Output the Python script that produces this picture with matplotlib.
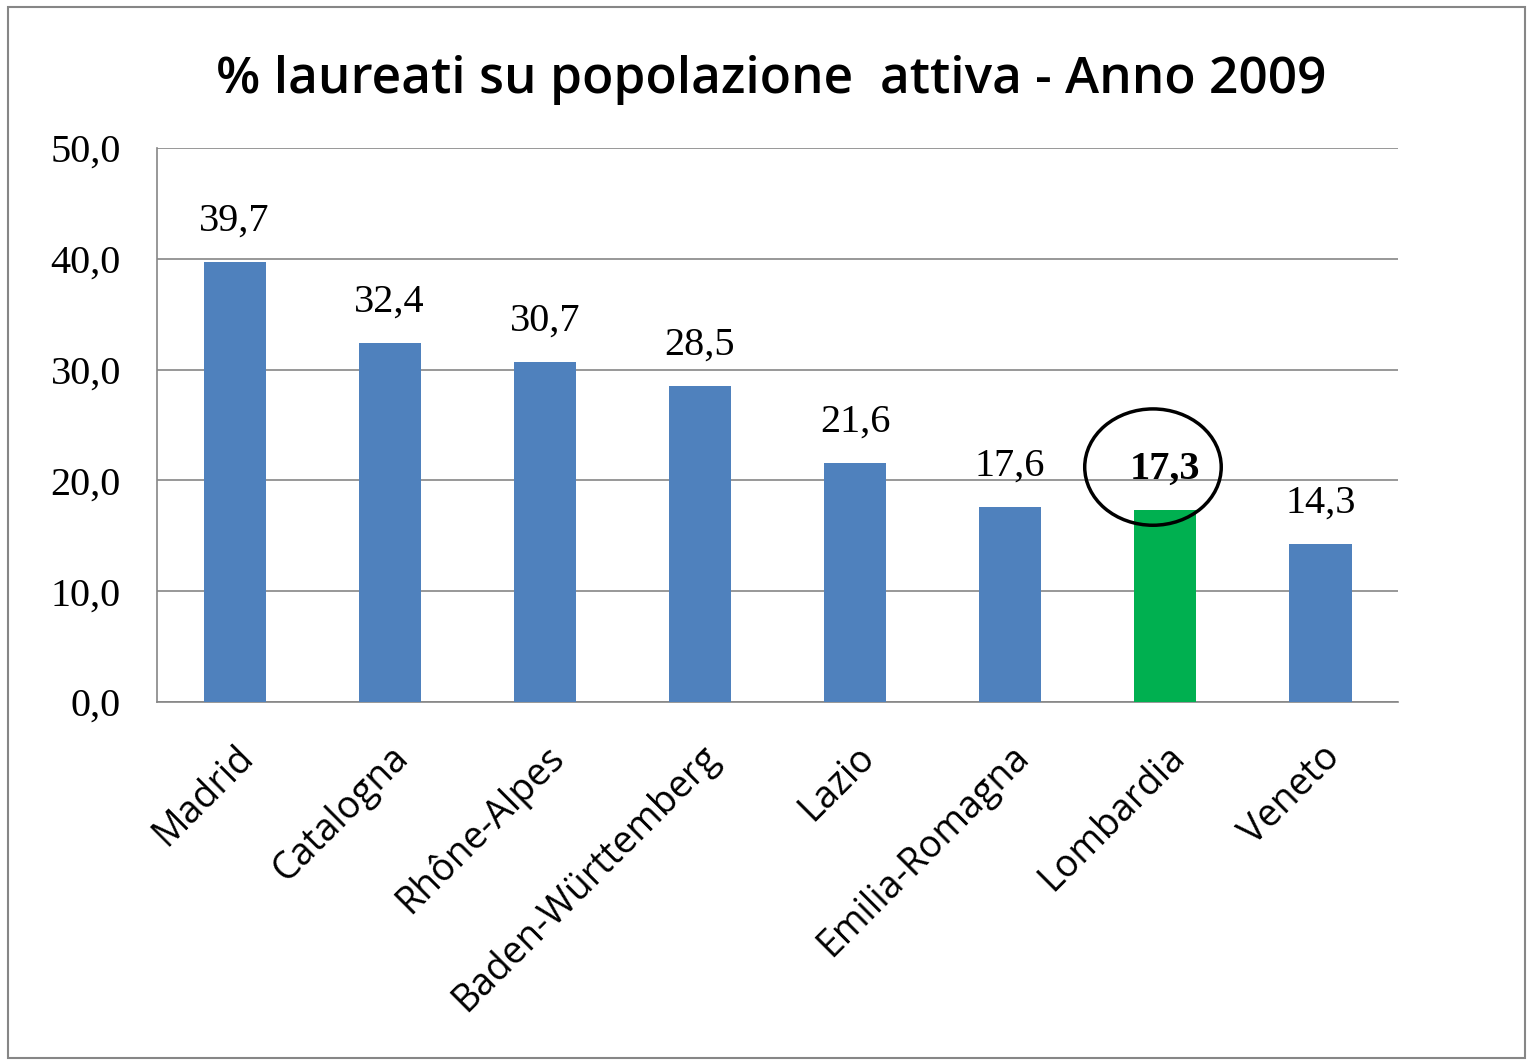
import matplotlib.pyplot as plt
from matplotlib.patches import Ellipse, Rectangle

regions = ['Madrid', 'Catalogna', 'Rhône-Alpes', 'Baden-Württemberg',
           'Lazio', 'Emilia-Romagna', 'Lombardia', 'Veneto']
values = [39.7, 32.4, 30.7, 28.5, 21.6, 17.6, 17.3, 14.3]
highlight = 'Lombardia'
yticks = [0, 10, 20, 30, 40, 50]

BLUE = '#4F81BD'
GREEN = '#00B050'
SERIF = 'Liberation Serif'
SANS = 'Open Sans'


def fmt(v):
    return f'{v:.1f}'.replace('.', ',')


fig = plt.figure(figsize=(15.33, 10.61), dpi=100)
ax = fig.add_axes([0.1024, 0.3384, 0.9120 - 0.1024, 0.8605 - 0.3384])

colors = [GREEN if r == highlight else BLUE for r in regions]
x = range(len(regions))
bars = ax.bar(x, values, width=0.4, color=colors, zorder=3)

ax.set_xlim(-0.5, len(regions) - 0.5)
ax.set_ylim(0, 50)
ax.set_yticks(yticks)
ax.set_yticklabels([fmt(t) for t in yticks], fontfamily=SERIF, fontsize=29)
ax.tick_params(axis='y', length=0, pad=26)
ax.tick_params(axis='x', length=0, pad=26)
ax.grid(axis='y', color='#868686', linewidth=1.2, zorder=0)

ax.set_xticks(list(x))
ax.set_xticklabels(regions, rotation=45, ha='right', rotation_mode='anchor',
                   fontfamily=SANS, fontsize=27)

for s in ['top', 'right']:
    ax.spines[s].set_visible(False)
for s in ['left', 'bottom']:
    ax.spines[s].set_color('#868686')
    ax.spines[s].set_linewidth(1.2)

for r, b, v in zip(regions, bars, values):
    ax.text(b.get_x() + b.get_width() / 2, v + 2.0, fmt(v),
            ha='center', va='bottom', fontfamily=SERIF, fontsize=29,
            fontweight='bold' if r == highlight else 'normal')

# circle around the highlighted value
i = regions.index(highlight)
ax.add_patch(Ellipse((i - 0.08, values[i] + 3.9), 0.88, 10.5, fill=False,
                     edgecolor='black', linewidth=2.5, clip_on=False, zorder=5))

fig.text(0.503, 0.925, '% laureati su popolazione  attiva - Anno 2009',
         ha='center', va='center', fontfamily=SANS, fontsize=37,
         fontweight='semibold')

# outer chart border
fig.patches.append(Rectangle((0.005, 0.003), 0.99, 0.99, transform=fig.transFigure,
                             fill=False, edgecolor='#868686', linewidth=1.5))

fig.savefig('out.png', dpi=100)
